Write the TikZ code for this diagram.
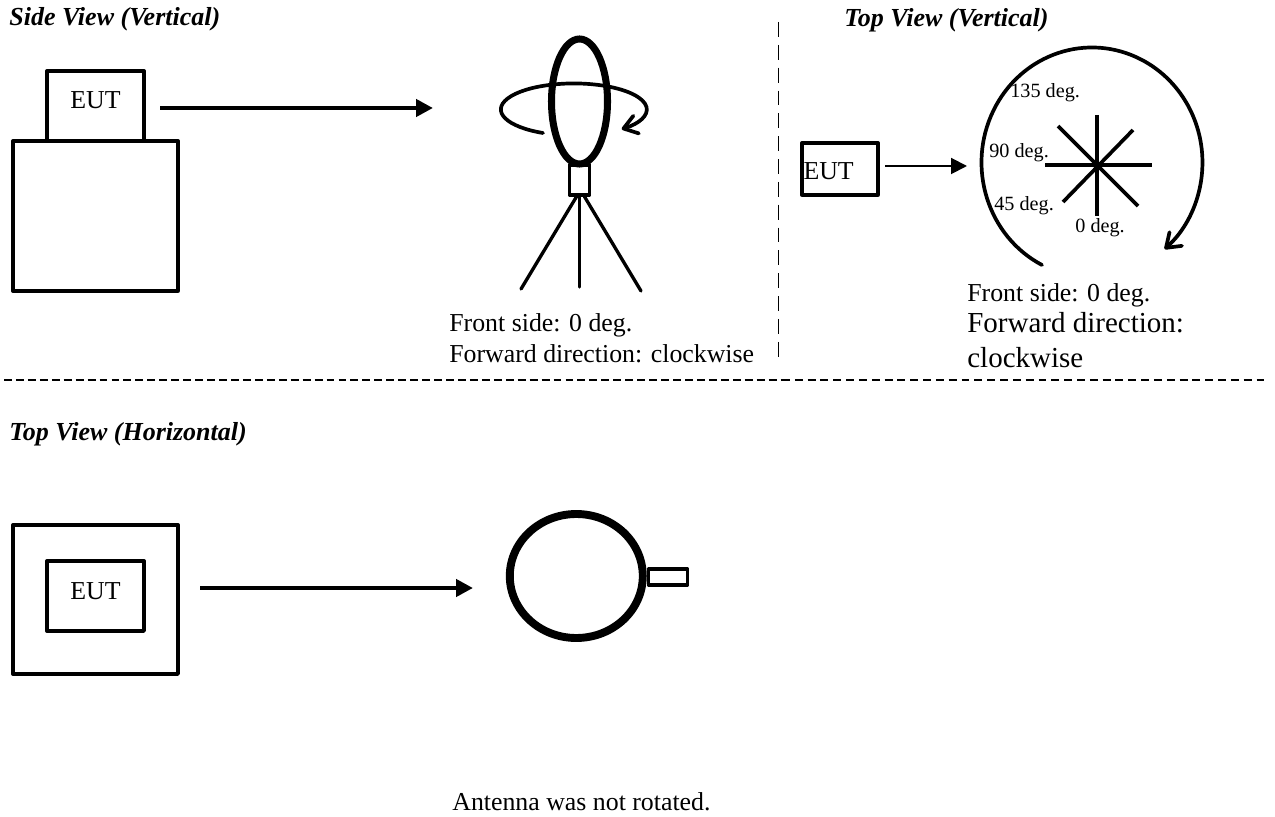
\documentclass[tikz,border=0pt]{standalone}
\usepackage{fontspec}
\setmainfont{Liberation Serif}
\usetikzlibrary{arrows.meta,shapes.geometric}

\tikzset{
  boxnode/.style={draw,rectangle,line width=1.9pt,line join=round,inner sep=0pt},
  txt/.style={anchor=base west,inner sep=0pt,font=\fontsize{14.7}{14.7}\selectfont},
  bigtxt/.style={txt,font=\fontsize{16.5}{16.5}\selectfont},
  deg/.style={txt,font=\fontsize{11.5}{11.5}\selectfont},
  heading/.style={txt,font=\fontsize{14.8}{14.8}\selectfont\bfseries\itshape},
  eut/.style={boxnode,font=\fontsize{14.7}{14.7}\selectfont,text height=0.12cm,text depth=0pt},
  arrow/.style={-{Triangle[length=9.6pt,width=9.6pt]},line width=2.8pt},
  barb/.style={-{Straight Barb[length=7.5pt,width=10.5pt,round]},line width=2.1pt,line cap=round},
  spoke/.style={line width=2.1pt}
}

\begin{document}
\begin{tikzpicture}[x=0.02cm,y=0.02cm]

      \useasboundingbox (0,0) rectangle (1275,816);

      % headings
      \node[heading] (sidehead) at (9,790)  {Side View (Vertical)};
      \node[heading] (tophead)  at (844,789) {Top View (Vertical)};
      \node[heading] (horhead)  at (9,376)  {Top View (Horizontal)};

      % side view
      \node[eut,minimum width=97*0.02cm,minimum height=70*0.02cm] (eutside) at (95.5,710) {EUT};
      \node[boxnode,minimum width=165*0.02cm,minimum height=150*0.02cm] (table) at (95.5,600) {};
      \node[ellipse,draw,line width=4pt,inner sep=0pt,minimum width=56*0.02cm,minimum height=125*0.02cm] (loop) at (579.5,714.5) {};
      \node[boxnode,minimum width=20*0.02cm,minimum height=30*0.02cm] (mast) at (579.5,636) {};

      \coordinate (sidefrom) at (160,708);
      \coordinate (sideto)   at (433,708);
      \coordinate (footl)    at (521,527);
      \coordinate (footm)    at (579.5,529);
      \coordinate (footr)    at (641,525);
      \coordinate (ringstart) at (543,683);
      \coordinate (bigstart)  at (1042,551);

      \draw[arrow] (sidefrom) -- (sideto);
      \begin{scope}[line cap=round,line width=1.9pt]
        \draw (mast.south) ++(-3,0) -- (footl);
        \draw (mast.south) -- (footm);
        \draw (mast.south) ++(5,0) -- (footr);
      \end{scope}
      \draw[barb] (ringstart) arc[start angle=245,delta angle=-294,x radius=1.46cm,y radius=0.52cm];

      \node[txt] (sidefront) at (449,484) {Front side: 0 deg.};
      \node[txt] (sidefwd)   at (449,454) {Forward direction: clockwise};

      % top view, vertical
      \node[boxnode,minimum width=76*0.02cm,minimum height=52*0.02cm,text width=1.46cm,inner xsep=0.03cm,align=left,
            text height=0.44cm,text depth=0pt,font=\fontsize{14.7}{14.7}\selectfont] (euttop) at (840,647) {EUT};
      \coordinate (topfrom) at (885,650);
      \coordinate (topto)   at (967,650);
      \draw[-{Triangle[length=9pt,width=9pt]},line width=1.1pt] (topfrom) -- (topto);

      \draw[barb] (bigstart) arc[start angle=243.1,delta angle=-292,x radius=2.21cm,y radius=2.3cm];

      \coordinate (starl) at (1045,651);
      \coordinate (starr) at (1152,651);
      \coordinate (start) at (1097,701);
      \coordinate (starb) at (1097,600);
      \coordinate (starnw) at (1058,690);
      \coordinate (starse) at (1138,610);
      \coordinate (starne) at (1133,686);
      \coordinate (starsw) at (1063,614);
      \begin{scope}[spoke]
        \draw (starl) -- (starr);
        \draw (start) -- (starb);
        \draw (starnw) -- (starse);
        \draw (starne) -- (starsw);
      \end{scope}

      \begin{scope}[every node/.style={deg}]
        \node (deg135) at (1010,718) {135 deg.};
        \node (deg90)  at (989,658)  {90 deg.};
        \node (deg45)  at (994,605)  {45 deg.};
        \node (deg0)   at (1075,583) {0 deg.};
      \end{scope}

      \node[txt]    (topfront) at (967,514) {Front side: 0 deg.};
      \node[bigtxt] (topfwd)   at (967,483) {Forward direction:};
      \node[bigtxt] (topclock) at (967,449) {clockwise};

      % dividers
      \coordinate (vtop) at (778.5,794);
      \coordinate (vbot) at (778.5,453);
      \coordinate (hleft) at (4,436);
      \coordinate (hmid)  at (782,436);
      \coordinate (hright) at (1266,436);
      \draw[line width=1.1pt,dash pattern=on 8.5pt off 4.5pt] (vtop) -- (vbot);
      \draw[line width=1.4pt,dash pattern=on 4.5pt off 2.3pt] (hleft) -- (hmid);
      \draw[line width=0.75pt,dash pattern=on 4.5pt off 2.8pt] (hmid) -- (hright);

      % top view, horizontal
      \node[boxnode,minimum width=165*0.02cm,minimum height=149*0.02cm] (tablehor) at (95.5,216.5) {};
      \node[eut,minimum width=97*0.02cm,minimum height=70*0.02cm] (euthor) at (95.5,220) {EUT};
      \node[ellipse,draw,line width=4.5pt,inner sep=0pt,minimum width=133*0.02cm,minimum height=124*0.02cm] (dish) at (576.3,240) {};
      \node[boxnode,minimum width=39*0.02cm,minimum height=16*0.02cm] (feed) at (668,239) {};
      \coordinate (horfrom) at (200,228);
      \coordinate (horto)   at (473,228);
      \draw[arrow] (horfrom) -- (horto);

      \node[txt] (norotate) at (452,6) {Antenna was not rotated.};

    \end{tikzpicture}
\end{document}
